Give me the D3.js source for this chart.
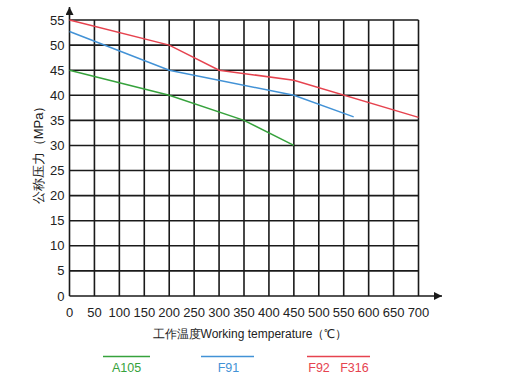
<!DOCTYPE html>
<html><head><meta charset="utf-8">
<script src="https://cdn.jsdelivr.net/npm/d3@7"></script>
<style>body{margin:0;background:#fff}svg{display:block}text{font-family:"Liberation Sans",Arial,sans-serif}</style>
</head><body><svg id="c" width="527" height="384"></svg>
<script>
const xTicks = [0,50,100,150,200,250,300,350,400,450,500,550,600,650,700];
const yTicks = [0,5,10,15,20,25,30,35,40,45,50,55];
const seriesNames = ["A105","F91","F92\u00a0\u00a0\u00a0F316"];
const seriesColors = ["#36a23c","#4292d6","#e6434f"];
const a105 = [[0,45],[200,40],[350,35],[450,30]];
const f91 = [[0,52.7],[200,45],[450,40],[570,35.7]];
const f92 = [[0,55],[200,50],[300,45],[450,43],[700,35.6]];
const seriesData = [a105,f91,f92];

const svg = d3.select("#c");
const x = d3.scaleLinear().domain([0,700]).range([69.5,418.5]);
const y = d3.scaleLinear().domain([0,55]).range([296,20]);

const grid = svg.append("g").attr("stroke","#1a1a1a").attr("stroke-width",1.6);
grid.selectAll("line.v").data(xTicks.slice(1)).join("line")
  .attr("x1",d=>x(d)).attr("x2",d=>x(d)).attr("y1",y(55)).attr("y2",y(0));
grid.selectAll("line.h").data(yTicks.slice(1)).join("line")
  .attr("x1",x(0)).attr("x2",x(700)).attr("y1",d=>y(d)).attr("y2",d=>y(d));

// axes with arrows
svg.append("defs").append("marker").attr("id","arr").attr("viewBox","0 0 10 10")
  .attr("refX",10).attr("refY",5).attr("markerWidth",7).attr("markerHeight",5).attr("orient","auto")
  .append("path").attr("d","M0,0L10,5L0,10Z").attr("fill","#1a1a1a");
svg.append("line").attr("x1",x(0)).attr("x2",x(0)).attr("y1",y(0)).attr("y2",7)
  .attr("stroke","#1a1a1a").attr("stroke-width",1.6).attr("marker-end","url(#arr)");
svg.append("line").attr("x1",x(0)).attr("x2",442).attr("y1",y(0)).attr("y2",y(0))
  .attr("stroke","#1a1a1a").attr("stroke-width",1.6).attr("marker-end","url(#arr)");

// tick labels
svg.append("g").selectAll("text").data(yTicks).join("text")
  .attr("x",64.5).attr("y",d=>y(d)).attr("dy","0.35em").attr("text-anchor","end")
  .attr("font-size",13).attr("fill","#222").text(d=>d);
svg.append("g").selectAll("text").data(xTicks).join("text")
  .attr("x",d=>x(d)).attr("y",317).attr("text-anchor","middle")
  .attr("font-size",13).attr("fill","#222").text(d=>d);

// lines
const line = d3.line().x(d=>x(d[0])).y(d=>y(d[1]));
svg.append("g").selectAll("path").data(seriesData).join("path")
  .attr("d",line).attr("fill","none").attr("stroke",(d,i)=>seriesColors[i]).attr("stroke-width",1.5);

// axis titles
svg.append("text").attr("transform","translate(43,152) rotate(-90)").attr("text-anchor","middle")
  .attr("font-size",13).attr("fill","#222").text("公称压力（MPa）");
svg.append("text").attr("x",250).attr("y",338).attr("text-anchor","middle")
  .attr("font-size",12).attr("fill","#222").text("工作温度Working temperature（℃）");

// legend
const legX = [[103,150],[201,254],[307,370]];
const lg = svg.append("g");
seriesNames.forEach((n,i)=>{
  lg.append("line").attr("x1",legX[i][0]).attr("x2",legX[i][1]).attr("y1",356.5).attr("y2",356.5)
    .attr("stroke",seriesColors[i]).attr("stroke-width",1.5);
  lg.append("text").attr("x",(legX[i][0]+legX[i][1])/2+(i===1?1:0)).attr("y",372).attr("text-anchor","middle")
    .attr("font-size",12.5).attr("fill",seriesColors[i]).text(n);
});
</script></body></html>
